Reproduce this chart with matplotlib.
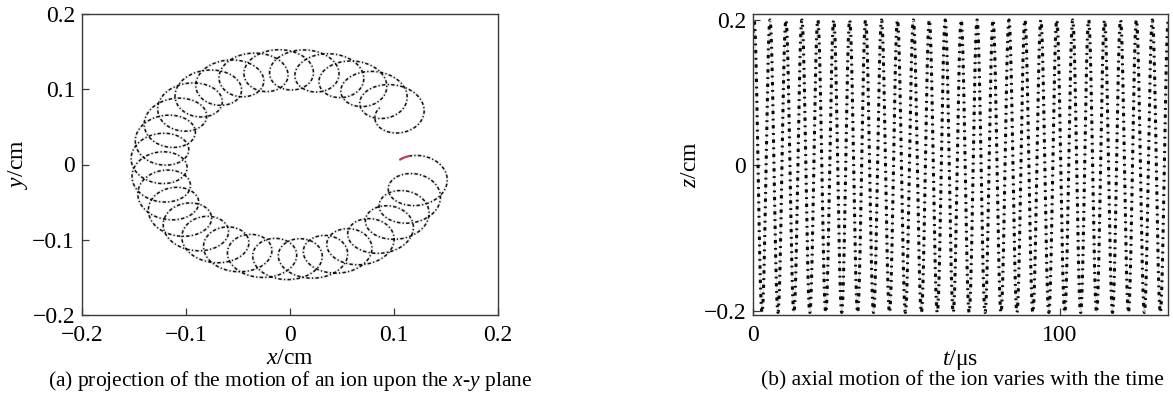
import numpy as np
import matplotlib
matplotlib.use("Agg")
import matplotlib.pyplot as plt

# ---- x-y projection: magnetron drift with superposed cyclotron loops ----
R_MAG = 0.126            # magnetron radius, cm
R_CYC = 0.027            # cyclotron radius, cm
MAG_START_DEG = -5.5     # magnetron phase at t = 0
MAG_SWEEP_DEG = 325.0    # clockwise magnetron sweep over the run
CYC_START_DEG = 136.0    # cyclotron phase at t = 0
CYC_TURNS = 28.96        # cyclotron revolutions over the run
START_FRACTION = 0.0022  # initial stretch of the path drawn in red

# ---- axial motion ----
Z_AMP = 0.201            # cm
Z_OFFSET = -0.001        # cm
Z_PERIOD = 5.19          # us
Z_PEAK_T = 0.35          # us, time of the first maximum
T_END = 135.2            # us

# ---- axes ----
XY_TICKS = [-0.2, -0.1, 0, 0.1, 0.2]
XY_TICK_LABELS = ["\u22120.2", "\u22120.1", "0", "0.1", "0.2"]
Z_TICKS = [-0.2, 0, 0.2]
Z_TICK_LABELS = ["\u22120.2", "0", "0.2"]
T_TICKS = [0, 100]
T_TICK_LABELS = ["0", "100"]

plt.rcParams["font.family"] = ["Liberation Serif", "DejaVu Serif"]
plt.rcParams["mathtext.fontset"] = "custom"
plt.rcParams["mathtext.rm"] = "Liberation Serif"
plt.rcParams["mathtext.it"] = "Liberation Serif:italic"

FS = 17
CAP_FS = 15.5
FRAME = "#3a3a3a"

fig = plt.figure(figsize=(11.73, 3.99), dpi=100)
ax1 = fig.add_axes([82 / 1173, 84 / 399, 416 / 1173, 301 / 399])
ax2 = fig.add_axes([753 / 1173, 84 / 399, 415 / 1173, 301 / 399])


def style(ax):
    for s in ax.spines.values():
        s.set_color(FRAME)
        s.set_linewidth(1.0)
    ax.tick_params(direction="in", length=5, width=0.9, color=FRAME,
                   labelsize=FS, top=False, right=False)
    ax.tick_params(axis="y", pad=5)
    ax.tick_params(axis="x", pad=7)


# trajectory in the x-y plane
n = 60000
u = np.linspace(0.0, 1.0, n)
th_m = np.deg2rad(MAG_START_DEG - MAG_SWEEP_DEG * u)
th_c = np.deg2rad(CYC_START_DEG) - 2 * np.pi * CYC_TURNS * u
x = R_MAG * np.cos(th_m) + R_CYC * np.cos(th_c)
y = R_MAG * np.sin(th_m) + R_CYC * np.sin(th_c)

ax1.plot(x, y, color="#dcdcdc", lw=2.0, alpha=0.6, solid_capstyle="round")
ax1.plot(x, y, color="#111111", lw=1.1, linestyle=(0, (2.2, 1.5, 0.8, 1.5)))
k = int(START_FRACTION * n)
ax1.plot(x[:k], y[:k], color="#b8405a", lw=1.5)

ax1.set_xlim(-0.2, 0.2)
ax1.set_ylim(-0.2, 0.2)
ax1.set_xticks(XY_TICKS)
ax1.set_xticklabels(XY_TICK_LABELS)
ax1.set_yticks(XY_TICKS)
ax1.set_yticklabels(XY_TICK_LABELS)
style(ax1)
ax1.set_xlabel("$x$/cm", fontsize=FS, labelpad=2)
ax1.set_ylabel("$y$/cm", fontsize=FS, labelpad=2)

# axial oscillation
t = np.linspace(0.0, T_END, 40000)
z = Z_OFFSET + Z_AMP * np.cos(2 * np.pi * (t - Z_PEAK_T) / Z_PERIOD)
ax2.plot(t, z, color="#c8c8c8", lw=0.8, alpha=0.7)
ax2.plot(t, z, color="#0a0a0a", lw=2.2, linestyle=(0, (1.1, 1.5, 0.6, 1.5)))

ax2.set_xlim(0, T_END)
ax2.set_ylim(-0.2055, 0.2082)
ax2.set_xticks(T_TICKS)
ax2.set_xticklabels(T_TICK_LABELS)
ax2.set_yticks(Z_TICKS)
ax2.set_yticklabels(Z_TICK_LABELS)
style(ax2)
ax2.set_xlabel("$t$/\u03bcs", fontsize=FS, labelpad=2)
ax2.set_ylabel("$z$/cm", fontsize=FS, labelpad=2)

fig.text(290 / 1173, 18 / 399,
         "(a) projection of the motion of an ion upon the $x$-$y$ plane",
         ha="center", va="center", fontsize=CAP_FS)
fig.text(962 / 1173, 18 / 399,
         "(b) axial motion of the ion varies with the time",
         ha="center", va="center", fontsize=CAP_FS)

fig.savefig("out.png", dpi=100)
